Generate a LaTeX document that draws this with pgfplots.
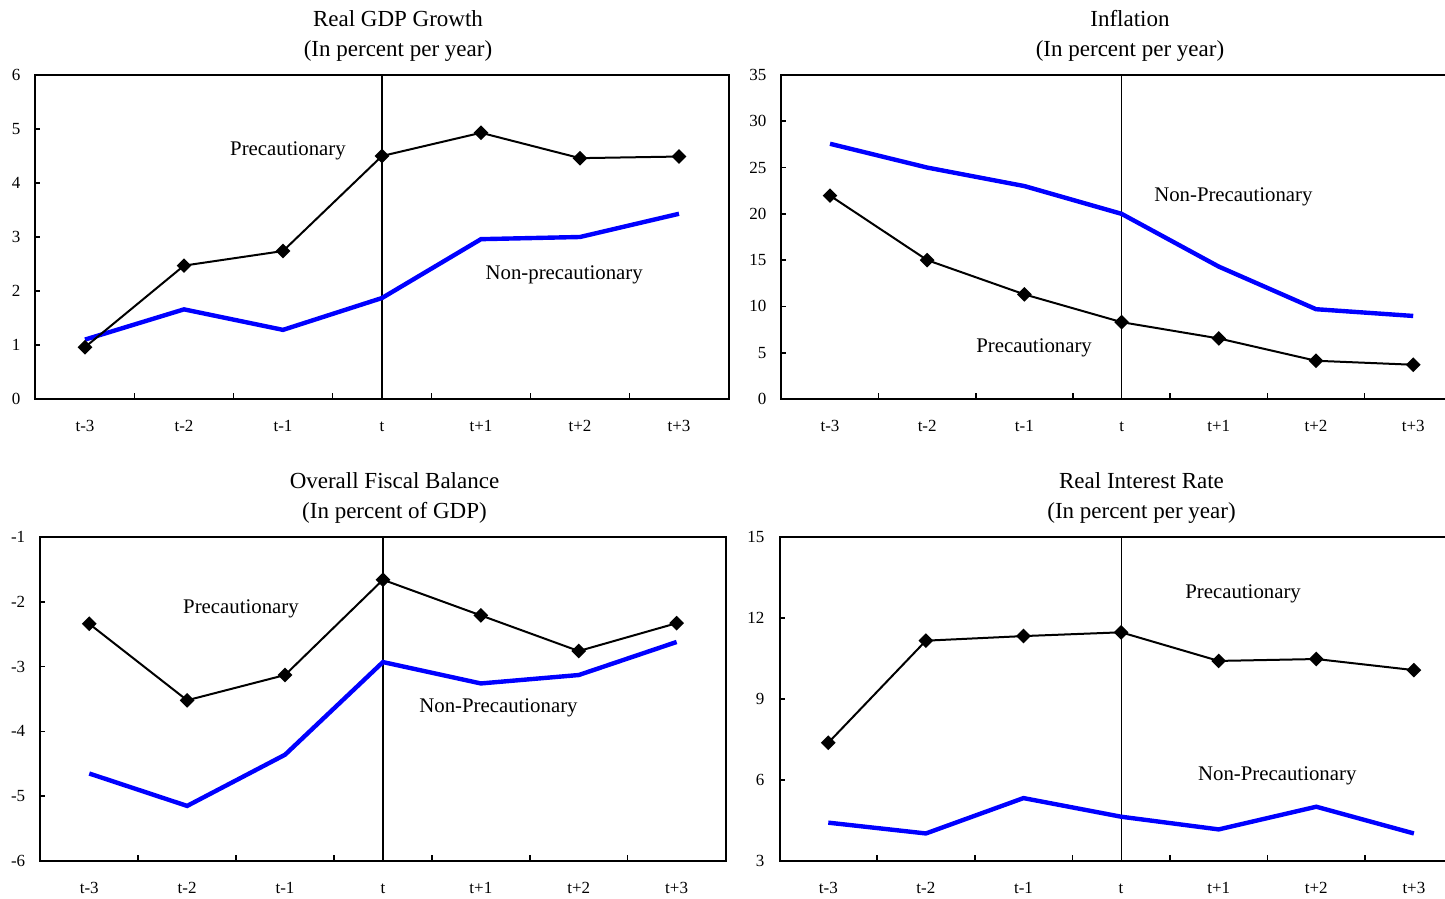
\documentclass[border=0pt]{standalone}
\usepackage{pgfplots}
\pgfplotsset{compat=1.18}
\usepackage{fontspec}
\setmainfont{Liberation Serif}
\definecolor{nblue}{RGB}{0,0,255}
\pgfplotsset{
  panel/.style={
    scale only axis, height=162pt,
    xmin=-0.5, xmax=6.5,
    xtick={0,...,6}, xticklabels={t-3,t-2,t-1,t,t+1,t+2,t+3},
    major x tick style={draw=none},
    minor xtick={0.5,1.5,...,5.5},
    minor tick length=3pt, major tick length=2.5pt,
    tick pos=left, tick align=inside,
    axis line style={line width=1pt},
    every tick/.style={black, line width=0.8pt},
    ticklabel style={font=\fontsize{8.5}{10}\selectfont},
    xticklabel style={yshift=-5.5pt, text height=0.7em, text depth=0.1em},
    yticklabel style={xshift=-4pt},
    /pgf/number format/assume math mode=true,
    clip=false,
  },
  prec/.style={black, line width=1pt, mark=square*, mark size=2.1pt, mark options={rotate=45, solid}},
  nonprec/.style={nblue, line width=2.2pt, no marks},
}
\newcommand{\ann}{\fontsize{10.4}{12}\selectfont}
\newcommand{\ttl}{\fontsize{11.5}{13}\selectfont}
\tikzset{annot/.style={font=\ann, yshift=-1.5pt}}
\begin{document}
\begin{tikzpicture}
% Panel 1
\begin{axis}[panel, at={(17.75pt,250pt)}, anchor=south west, width=346.5pt,
  ymin=0, ymax=6, ytick={0,1,...,6}]
\draw[black, line width=0.6pt] (axis cs:3,0) -- (axis cs:3,6);
\addplot[nonprec] coordinates {(0,1.10) (1,1.66) (2,1.28) (3,1.87) (4,2.96) (5,3.00) (6,3.43)};
\addplot[prec] coordinates {(0,0.96) (1,2.47) (2,2.74) (3,4.50) (4,4.93) (5,4.46) (6,4.49)};
\node[annot] at (axis cs:2.05,4.65) {Precautionary};
\node[annot] at (axis cs:4.84,2.35) {Non-precautionary};
\end{axis}
% Panel 2
\begin{axis}[panel, at={(390.7pt,250pt)}, anchor=south west, width=340.2pt,
  ymin=0, ymax=35, ytick={0,5,...,35}]
\draw[black, line width=0.6pt] (axis cs:3,0) -- (axis cs:3,35);
\addplot[nonprec] coordinates {(0,27.57) (1,25.0) (2,23.0) (3,20.0) (4,14.3) (5,9.7) (6,8.97)};
\addplot[prec] coordinates {(0,21.97) (1,15.0) (2,11.3) (3,8.3) (4,6.54) (5,4.13) (6,3.7)};
\node[annot] at (axis cs:4.15,22.2) {Non-Precautionary};
\node[annot] at (axis cs:2.1,5.8) {Precautionary};
\end{axis}
% Panel 3
\begin{axis}[panel, at={(20.15pt,19pt)}, anchor=south west, width=342.65pt,
  ymin=-6, ymax=-1, ytick={-6,-5,...,-1}]
\draw[black, line width=0.6pt] (axis cs:3,-6) -- (axis cs:3,-1);
\addplot[nonprec] coordinates {(0,-4.65) (1,-5.15) (2,-4.36) (3,-2.93) (4,-3.26) (5,-3.13) (6,-2.62)};
\addplot[prec] coordinates {(0,-2.34) (1,-3.52) (2,-3.13) (3,-1.66) (4,-2.21) (5,-2.76) (6,-2.33)};
\node[annot] at (axis cs:1.55,-2.06) {Precautionary};
\node[annot] at (axis cs:4.18,-3.59) {Non-Precautionary};
\end{axis}
% Panel 4
\begin{axis}[panel, at={(389.75pt,19pt)}, anchor=south west, width=341.6pt,
  ymin=3, ymax=15, ytick={3,6,...,15}]
\draw[black, line width=0.6pt] (axis cs:3,3) -- (axis cs:3,15);
\addplot[nonprec] coordinates {(0,4.42) (1,4.02) (2,5.33) (3,4.64) (4,4.17) (5,5.01) (6,4.02)};
\addplot[prec] coordinates {(0,7.38) (1,11.16) (2,11.33) (3,11.47) (4,10.41) (5,10.48) (6,10.07)};
\node[annot] at (axis cs:4.25,13.0) {Precautionary};
\node[annot] at (axis cs:4.6,6.26) {Non-Precautionary};
\end{axis}
% Titles
\node[font=\ttl, anchor=base] at (199pt,436pt) {Real GDP Growth};
\node[font=\ttl, anchor=base] at (199pt,421pt) {(In percent per year)};
\node[font=\ttl, anchor=base] at (565pt,436pt) {Inflation};
\node[font=\ttl, anchor=base] at (565pt,421pt) {(In percent per year)};
\node[font=\ttl, anchor=base] at (197.25pt,205pt) {Overall Fiscal Balance};
\node[font=\ttl, anchor=base] at (197.25pt,190pt) {(In percent of GDP)};
\node[font=\ttl, anchor=base] at (570.75pt,205pt) {Real Interest Rate};
\node[font=\ttl, anchor=base] at (570.75pt,190pt) {(In percent per year)};
\pgfresetboundingbox
\path[use as bounding box] (0,0) rectangle (722.5pt,449.5pt);
\end{tikzpicture}
\end{document}
